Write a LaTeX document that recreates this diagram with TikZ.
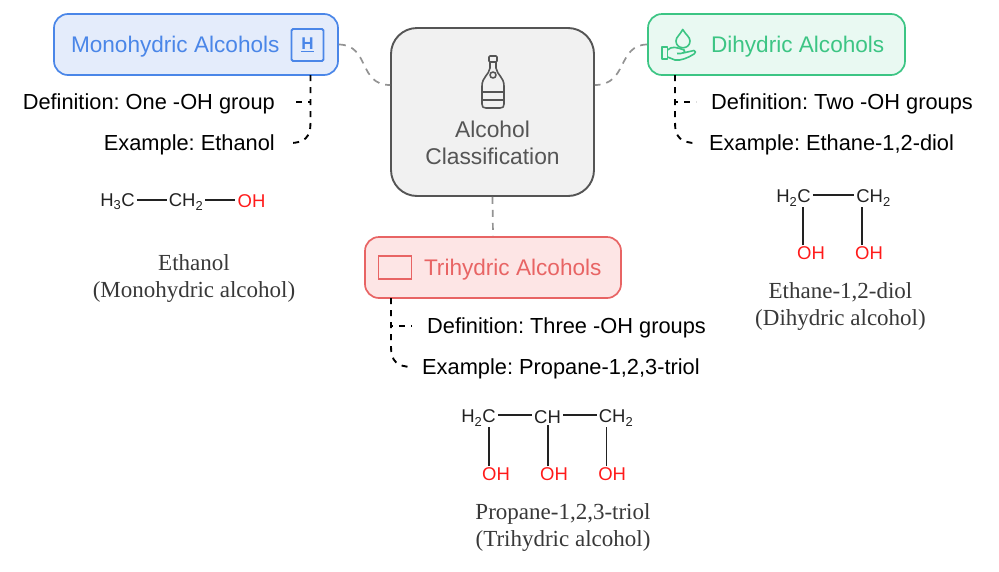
\documentclass[tikz,border=0pt]{standalone}
\usepackage{fontspec}
\setmainfont{Liberation Sans}
\newfontfamily\capfont{Liberation Serif}
\definecolor{monoblue}{HTML}{4A86E8}
\definecolor{monofill}{HTML}{E4ECFB}
\definecolor{digreen}{HTML}{3CC584}
\definecolor{difill}{HTML}{E9F9F2}
\definecolor{trired}{HTML}{E86464}
\definecolor{trifill}{HTML}{FDE5E5}
\definecolor{cengray}{HTML}{555555}
\definecolor{cenfill}{HTML}{F1F1F1}
\definecolor{chemred}{HTML}{FF1A1A}
\definecolor{chemdark}{HTML}{222222}
\tikzset{
  catbox/.style={draw, line width=1.7pt, rounded corners=14pt, minimum height=61pt, inner xsep=0pt, inner ysep=0pt, text height=16pt, text depth=0pt, font=\fontsize{22.6}{25}\selectfont},
  cenbox/.style={draw=cengray, fill=cenfill, text=cengray, line width=1.9pt, rounded corners=26pt, minimum width=203pt, minimum height=168pt, align=center, inner sep=0pt, font=\fontsize{22.8}{27}\selectfont},
  greylink/.style={draw=gray!85, line width=1.7pt, dash pattern=on 7pt off 6pt},
  blacklink/.style={draw=black, line width=1.9pt, dash pattern=on 6pt off 6pt},
  itemtext/.style={inner xsep=0pt, inner ysep=0pt, text height=15pt, text depth=0pt, font=\fontsize{21.8}{24}\selectfont\frenchspacing},
  chem/.style={inner xsep=2pt, inner ysep=1pt, text=chemdark, font=\fontsize{18.5}{20}\selectfont},
  chemoh/.style={chem, text=chemred},
  bond/.style={draw=chemdark, line width=1.3pt},
  captext/.style={align=center, inner sep=0pt, text=black!78, font=\capfont\fontsize{23}{27}\selectfont},
  iconline/.style={line width=1.6pt, line join=round}
}
\begin{document}
\begin{tikzpicture}[x=1pt, y=-1pt]
  \useasboundingbox (0,0) rectangle (999,571);
  \node[cenbox] (center) at (492.5,112) {\rule{0pt}{52pt}\\Alcohol\\Classification};
  \node[catbox, draw=monoblue, fill=monofill, text=monoblue, minimum width=284pt] (mono) at (196,44.5) {\makebox[284pt][l]{\hspace{17pt}Monohydric Alcohols}};
  \node[catbox, draw=digreen, fill=difill, text=digreen, minimum width=257pt] (di) at (776.5,44.5) {\makebox[257pt][l]{\hspace{63pt}Dihydric Alcohols}};
  \node[catbox, draw=trired, fill=trifill, text=trired, minimum width=256pt] (tri) at (493,267.5) {\makebox[256pt][l]{\hspace{59pt}Trihydric Alcohols}};

  \node[draw=monoblue, line width=1.8pt, rounded corners=1.5pt, text=monoblue, minimum width=32pt, minimum height=32pt, inner sep=0pt, font=\fontsize{17}{17}\selectfont\bfseries] (monoicon) at (307.5,45) {\underline{H}};
  \node[draw=trired, line width=1.8pt, minimum width=33pt, minimum height=23pt, inner sep=0pt] (triicon) at (395,267.5) {};

  \draw[iconline, cengray] (490,62) -- (490,68) .. controls (489,75) and (482,77) .. (482,86) -- (482,104) .. controls (482,107) and (483,108) .. (486,108) -- (500,108) .. controls (503,108) and (504,107) .. (504,104) -- (504,86) .. controls (504,77) and (497,75) .. (496,68) -- (496,62);
  \draw[iconline, cengray, rounded corners=1pt] (489,56) rectangle (497,62);
  \draw[iconline, cengray] (493,75) circle (3pt);
  \draw[iconline, cengray] (482,92) -- (504,92) (482,100) -- (504,100);
  \draw[iconline, digreen] (682.7,29.5) .. controls (680,35) and (676,37) .. (676,41) .. controls (676,50) and (690,50) .. (690,41) .. controls (690,37) and (686,35) .. (682.7,29.5) -- cycle;
  \draw[iconline, digreen] (662,47) rectangle (667.5,59);
  \draw[iconline, digreen] (667.5,50) .. controls (672,46) and (676,47) .. (684,50) .. controls (686,52) and (683,54) .. (677,53.5) (683,53) -- (694,50.5) .. controls (696,51) and (696,53) .. (694,54) .. controls (688,58) and (680,61) .. (675,60) -- (667.5,57);

  \node[itemtext, anchor=east] (monodef) at (275,102) {Definition: One -OH group};
  \node[itemtext, anchor=east] (monoex) at (275,143) {Example: Ethanol};
  \node[itemtext, anchor=west] (didef) at (711,102) {Definition: Two -OH groups};
  \node[itemtext, anchor=west] (diex) at (709,143) {Example: Ethane-1,2-diol};
  \node[itemtext, anchor=west] (tridef) at (427,326) {Definition: Three -OH groups};
  \node[itemtext, anchor=west] (triex) at (422,367) {Example: Propane-1,2,3-triol};

  \coordinate (monotap) at (310.5,75);
  \coordinate (ditap) at (675,75);
  \coordinate (tritap) at (391,298);

  \draw[greylink] (mono.east) .. controls (370,45) and (358,85) .. ([yshift=27pt]center.west);
  \draw[greylink] (di.west) .. controls (617,45) and (628,85) .. ([yshift=27pt]center.east);
  \draw[greylink] (center.south) -- (tri.north);

  \draw[blacklink] (monotap) -- (monotap |- monodef.east) -- ([xshift=15pt]monodef.east);
  \draw[blacklink] (monotap) -- ([yshift=20pt]monotap |- monoex.east) .. controls ([yshift=6pt]monotap |- monoex.east) and ([xshift=-6pt]monotap |- monoex.east) .. ([xshift=15pt]monoex.east);
  \draw[blacklink] (ditap) -- (ditap |- didef.west) -- ([xshift=-15pt]didef.west);
  \draw[blacklink] (ditap) -- ([yshift=20pt]ditap |- diex.west) .. controls ([yshift=6pt]ditap |- diex.west) and ([xshift=6pt]ditap |- diex.west) .. ([xshift=-13pt]diex.west);
  \draw[blacklink] (tritap) -- (tritap |- tridef.west) -- ([xshift=-15pt]tridef.west);
  \draw[blacklink] (tritap) -- ([yshift=20pt]tritap |- triex.west) .. controls ([yshift=6pt]tritap |- triex.west) and ([xshift=6pt]tritap |- triex.west) .. ([xshift=-9pt]triex.west);

  \node[chem] (etc1) at (117.5,202) {H\textsubscript{3}C};
  \node[chem] (etc2) at (186,202) {CH\textsubscript{2}};
  \node[chemoh] (etoh) at (251.5,201) {OH};
  \draw[bond] ([yshift=2pt]etc1.east) -- ([yshift=2pt]etc1.east -| etc2.west);
  \draw[bond] ([yshift=2pt]etc2.east) -- ([yshift=2pt]etc2.east -| etoh.west);

  \node[chem] (dic1) at (793.5,198) {H\textsubscript{2}C};
  \node[chem] (dic2) at (873.5,198) {CH\textsubscript{2}};
  \node[chemoh] (dioh1) at (811,253) {OH};
  \node[chemoh] (dioh2) at (869,253) {OH};
  \draw[bond] ([yshift=3pt]dic1.east) -- ([yshift=3pt]dic1.east -| dic2.west);
  \draw[bond] ([xshift=-8pt]dioh1.north) -- ([xshift=-8pt]dioh1.north |- dic1.south);
  \draw[bond] ([xshift=-7pt]dioh2.north) -- ([xshift=-7pt]dioh2.north |- dic2.south);

  \node[chem] (trc1) at (478.5,418) {H\textsubscript{2}C};
  \node[chem] (trc2) at (547.5,417) {CH};
  \node[chem] (trc3) at (616,418) {CH\textsubscript{2}};
  \node[chemoh] (troh1) at (496,474) {OH};
  \node[chemoh] (troh2) at (554,474) {OH};
  \node[chemoh] (troh3) at (612.2,474) {OH};
  \draw[bond] ([yshift=3pt]trc1.east) -- ([yshift=3pt]trc1.east -| trc2.west);
  \draw[bond] ([yshift=2pt]trc2.east) -- ([yshift=2pt]trc2.east -| trc3.west);
  \draw[bond] ([xshift=-7pt]troh1.north) -- ([xshift=-7pt]troh1.north |- trc1.south);
  \draw[bond] ([xshift=-6pt]troh2.north) -- ([xshift=-6pt]troh2.north |- trc2.south);
  \draw[bond] ([xshift=-6pt]troh3.north) -- ([xshift=-6pt]troh3.north |- trc3.south);

  \node[captext] (etcap) at (194,278.5) {Ethanol\\(Monohydric alcohol)};
  \node[captext] (dicap) at (840.5,306) {Ethane-1,2-diol\\(Dihydric alcohol)};
  \node[captext] (trcap) at (563,527) {Propane-1,2,3-triol\\(Trihydric alcohol)};
\end{tikzpicture}
\end{document}
